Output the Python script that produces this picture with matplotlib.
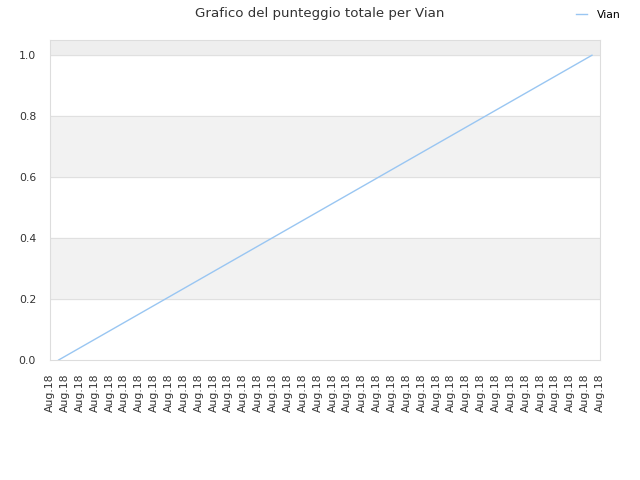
import matplotlib
matplotlib.use("Agg")
import matplotlib.pyplot as plt

# dati
tick_labels = ["Aug.18"] * 38
punti_x = [0.58, 36.46]
punteggio = [0.0, 1.0]
bande = [(0.2, 0.4), (0.6, 0.8)]

fig = plt.figure(figsize=(6.4, 4.8), dpi=100)
ax = fig.add_axes([50 / 640, 120 / 480, 550 / 640, 320 / 480])

for lo, hi in bande:
    ax.axhspan(lo, hi, color="#f2f2f2", zorder=0)
ax.axhspan(1.0, 1.05, color="#eeeeee", zorder=0)
for y in [0.2, 0.4, 0.6, 0.8, 1.0]:
    ax.axhline(y, color="#e0e0e0", lw=0.8, zorder=1)

ax.plot(punti_x, punteggio, color="#99c6f2", lw=1, label="Vian", zorder=2)

ax.set_xlim(0, len(tick_labels) - 1)
ax.set_ylim(0, 1.05)
ax.set_xticks(range(len(tick_labels)))
ax.set_xticklabels(tick_labels, rotation=90)
ax.set_yticks([0.0, 0.2, 0.4, 0.6, 0.8, 1.0])
ax.tick_params(length=0, labelsize=7.8, colors="#333333")
ax.tick_params(axis="x", pad=10)
ax.tick_params(axis="y", pad=10)

for s in ax.spines.values():
    s.set_color("#dddddd")

fig.suptitle("Grafico del punteggio totale per Vian", fontsize=9.6, color="#333333", y=0.985)
fig.legend(loc="upper right", bbox_to_anchor=(0.985, 1.0), frameon=False, fontsize=7.8,
           handlelength=1.0, handletextpad=0.9)

fig.savefig("out.png", dpi=100)
